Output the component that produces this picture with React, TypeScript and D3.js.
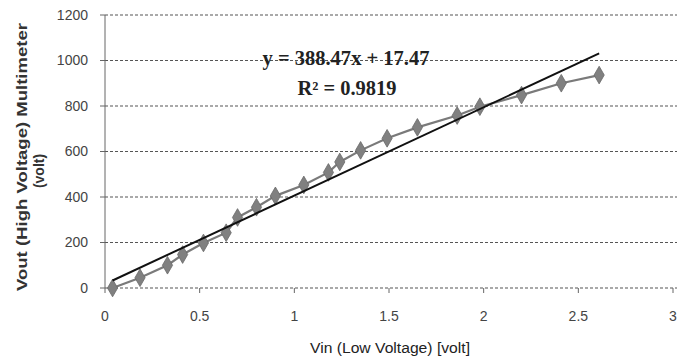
import React from "react";
import * as d3 from "d3";

const vin = [0.04, 0.185, 0.33, 0.41, 0.52, 0.64, 0.70, 0.80, 0.90, 1.05, 1.18, 1.24, 1.35, 1.49, 1.65, 1.86, 1.98, 2.20, 2.41, 2.61];
const vout = [0, 45, 100, 147, 198, 243, 310, 355, 405, 453, 508, 554, 605, 658, 706, 758, 797, 848, 900, 936];
const yTicks = [0, 200, 400, 600, 800, 1000, 1200];
const xTicks = [0, 0.5, 1, 1.5, 2, 2.5, 3];
const slope = 388.47;
const intercept = 17.47;
const eqLabel = "y = 388.47x + 17.47";
const r2Label = "R² = 0.9819";
const xTitle = "Vin (Low Voltage) [volt]";
const yTitle1 = "Vout (High Voltage) Multimeter";
const yTitle2 = "(volt)";

export default function App() {
  const W = 677, H = 361;
  const x = d3.scaleLinear().domain([0, 3]).range([105, 673]);
  const y = d3.scaleLinear().domain([0, 1200]).range([288, 15]);
  const pts: [number, number][] = vin.map((v, i) => [v, vout[i]]);
  const line = d3.line<[number, number]>().x(d => x(d[0])).y(d => y(d[1]));
  const diamond = d3.symbol().type(d3.symbolDiamond).size(90)();
  const x0 = vin[0], x1 = vin[vin.length - 1];
  const tickFont = "'Liberation Sans', Arial, sans-serif";
  const serif = "'Liberation Serif', 'Times New Roman', serif";
  return (
    <svg width={W} height={H} style={{ position: "absolute", left: 0, top: 0, background: "#fff" }}>
      <rect x={0} y={0} width={W} height={H} fill="#fff" />
      {yTicks.map(t => (
        <line key={"g" + t} x1={x(0)} x2={W} y1={y(t)} y2={y(t)} stroke="#555" strokeWidth={1.2} strokeDasharray="3,2" />
      ))}
      <line x1={x(0)} x2={x(0)} y1={y(1200)} y2={y(0)} stroke="#666" strokeWidth={1} />
      {yTicks.map(t => (
        <line key={"yt" + t} x1={x(0) - 5} x2={x(0)} y1={y(t)} y2={y(t)} stroke="#666" strokeWidth={1} />
      ))}
      {xTicks.map(t => (
        <line key={"xt" + t} x1={x(t)} x2={x(t)} y1={y(0)} y2={y(0) + 5} stroke="#666" strokeWidth={1} />
      ))}
      {yTicks.map(t => (
        <text key={"yl" + t} x={88} y={y(t)} dy="0.35em" textAnchor="end" fontFamily={tickFont} fontSize={14} fill="#444">{t}</text>
      ))}
      {xTicks.map(t => (
        <text key={"xl" + t} x={x(t)} y={316} dy="0.35em" textAnchor="middle" fontFamily={tickFont} fontSize={14} fill="#444">{String(t)}</text>
      ))}
      <path d={line(pts) || ""} fill="none" stroke="#7a7a7a" strokeWidth={2.2} />
      {pts.map((p, i) => (
        <path key={"m" + i} d={diamond || ""} transform={`translate(${x(p[0])},${y(p[1])})`} fill="#808080" stroke="#6a6a6a" strokeWidth={0.8} />
      ))}
      <line x1={x(x0)} y1={y(slope * x0 + intercept)} x2={x(x1)} y2={y(slope * x1 + intercept)} stroke="#111" strokeWidth={2} />
      <text x={346} y={65} textAnchor="middle" fontFamily={serif} fontWeight="bold" fontSize={20} fill="#222" textLength={167} lengthAdjust="spacingAndGlyphs">{eqLabel}</text>
      <text x={347} y={95} textAnchor="middle" fontFamily={serif} fontWeight="bold" fontSize={20} fill="#222" textLength={99} lengthAdjust="spacingAndGlyphs">{r2Label}</text>
      <text x={390} y={348} dy="0.35em" textAnchor="middle" fontFamily={tickFont} fontSize={14} fill="#222" textLength={160} lengthAdjust="spacingAndGlyphs">{xTitle}</text>
      <text transform="translate(22,157) rotate(-90)" dy="0.35em" textAnchor="middle" fontFamily={tickFont} fontWeight="bold" fontSize={14} fill="#333" textLength={268} lengthAdjust="spacingAndGlyphs">{yTitle1}</text>
      <text transform="translate(39,171) rotate(-90)" dy="0.35em" textAnchor="middle" fontFamily={tickFont} fontWeight="bold" fontSize={14} fill="#333">{yTitle2}</text>
    </svg>
  );
}
